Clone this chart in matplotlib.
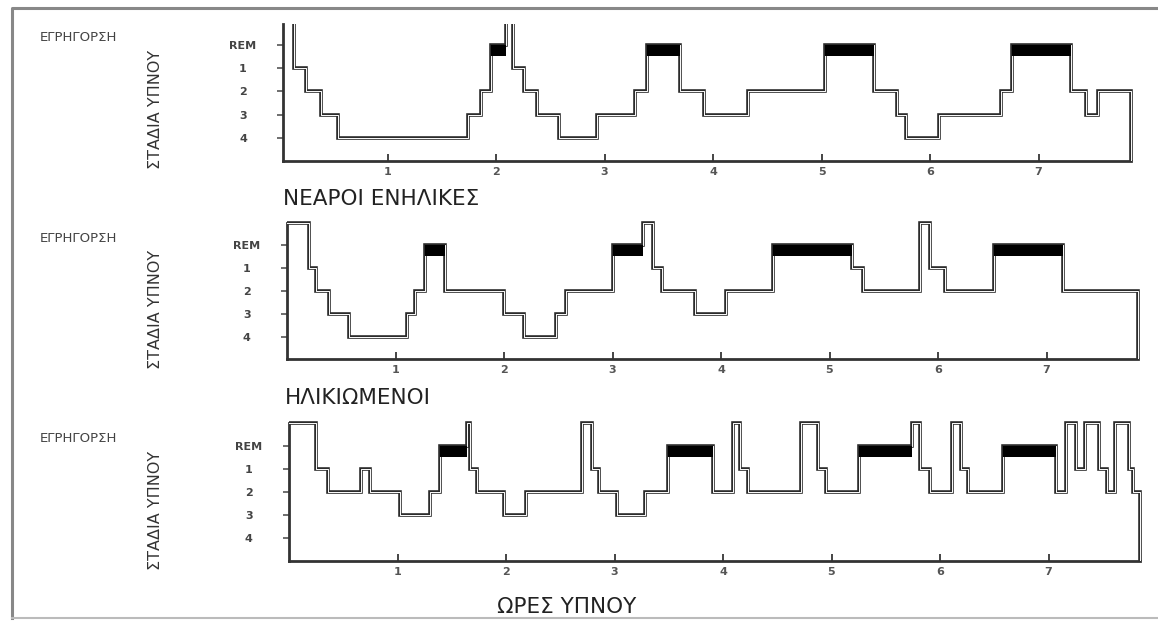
import matplotlib.pyplot as plt
from matplotlib.lines import Line2D

plt.rcParams["font.family"] = ["DejaVu Sans"]

# sleep stages: W = wake (ΕΓΡΗΓΟΡΣΗ), R = REM, 1-4 = stages
LEVEL = {"W": 0, "R": 1, "1": 2, "2": 3, "3": 4, "4": 5}
stage_labels = ["REM", "1", "2", "3", "4"]
hour_ticks = [1, 2, 3, 4, 5, 6, 7]

# young adults: segment boundaries (hours) and stage of each segment
young_t = [0.04, 0.14, 0.25, 0.39, 0.54, 1.74, 1.86, 1.95, 2.09, 2.16, 2.26, 2.38, 2.58, 2.93,
           3.28, 3.39, 3.70, 3.92, 4.32, 5.03, 5.48, 5.70, 5.78, 6.08, 6.65, 6.76, 7.30, 7.44,
           7.55, 7.85]
young_s = ["W", "1", "2", "3", "4", "3", "2", "R", "W", "1", "2", "3", "4", "3", "2", "R", "2",
           "3", "2", "R", "2", "3", "4", "3", "2", "R", "2", "3", "2"]

# elderly
old_t = [0.0, 0.20, 0.27, 0.39, 0.57, 1.11, 1.18, 1.27, 1.46, 2.00, 2.18, 2.48, 2.57, 3.00,
         3.28, 3.37, 3.46, 3.76, 4.05, 4.48, 5.21, 5.31, 5.83, 5.93, 6.06, 6.52, 7.15, 7.84]
old_s = ["W", "1", "2", "3", "4", "3", "2", "R", "2", "3", "4", "3", "2", "R", "W", "1", "2",
         "3", "2", "R", "1", "2", "W", "1", "2", "R", "2"]

# third panel (no title)
third_t = [0.0, 0.25, 0.36, 0.66, 0.75, 1.02, 1.30, 1.39, 1.64, 1.67, 1.73, 1.98, 2.18, 2.70,
           2.79, 2.86, 3.02, 3.28, 3.49, 3.91, 4.09, 4.16, 4.23, 4.72, 4.88, 4.95, 5.25, 5.74,
           5.82, 5.91, 6.11, 6.19, 6.26, 6.58, 7.07, 7.16, 7.25, 7.34, 7.47, 7.54, 7.61, 7.74,
           7.78, 7.84]
third_s = ["W", "1", "2", "1", "2", "3", "2", "R", "W", "1", "2", "3", "2", "W", "1", "2", "3",
           "2", "R", "2", "W", "1", "2", "W", "1", "2", "R", "W", "1", "2", "W", "1", "2", "R",
           "2", "W", "1", "W", "1", "2", "W", "1", "2"]

W, H = 1158, 621
PX_H = 108.5  # pixels per hour
fig = plt.figure(figsize=(W / 100, H / 100), dpi=100)
fig.patch.set_facecolor("white")


def ftext(x, y, s, **kw):
    # place text in pixel coords (y from top)
    return fig.text(x / W, 1 - y / H, s, **kw)


def panel(t, s, top, bottom, hour0, y_top):
    step = (bottom - top) / 6
    x0, x1 = t[0], t[-1] + 0.04
    left = hour0 + x0 * PX_H
    right = hour0 + x1 * PX_H
    ax_top = top + y_top * step
    ax = fig.add_axes([left / W, 1 - bottom / H, (right - left) / W, (bottom - ax_top) / H])
    ax.set_xlim(x0, x1)
    ax.set_ylim(6, y_top)
    ax.patch.set_alpha(0)

    y = [LEVEL[k] for k in s] + [6]
    ax.step(t, y, where="post", color="#2b2b2b", lw=2.6, solid_joinstyle="miter", zorder=2)
    ax.step(t, y, where="post", color="white", lw=0.7, zorder=3)
    for i, k in enumerate(s):
        if k == "R":
            ax.bar(t[i], 0.47, width=t[i + 1] - t[i], bottom=1, align="edge",
                   color="black", zorder=4)

    for side in ["top", "right"]:
        ax.spines[side].set_visible(False)
    ax.spines["left"].set_bounds(max(y_top, 0), 6)
    ax.spines["bottom"].set_bounds(x0, t[-1])
    for side in ["left", "bottom"]:
        ax.spines[side].set_linewidth(2)
        ax.spines[side].set_color("#333333")

    ax.set_yticks([1, 2, 3, 4, 5], stage_labels)
    ax.set_xticks(hour_ticks, [str(h) for h in hour_ticks])
    ax.tick_params(axis="y", direction="out", length=4, width=1.2, color="#555555",
                   labelsize=8, labelcolor="#444444", pad=25)
    for lbl in ax.get_yticklabels():
        lbl.set_ha("center")
        lbl.set_fontweight("bold")
    ax.tick_params(axis="x", direction="in", length=5, width=1.4, color="#444444",
                   labelsize=8, labelcolor="#555555", pad=4)
    for lbl in ax.get_xticklabels():
        lbl.set_fontweight("bold")

    ftext(40, top + 0.7 * step, "ΕΓΡΗΓΟΡΣΗ", fontsize=9.5, color="#444444",
          va="center", ha="left")
    ftext(155, top + 3.8 * step, "ΣΤΑΔΙΑ ΥΠΝΟΥ", fontsize=11.5, color="#333333",
          rotation=90, va="center", ha="center")
    return ax


panel(young_t, young_s, 21.7, 161, 279, 0.1)
panel(old_t, old_s, 222.7, 359.3, 287, -0.1)
panel(third_t, third_s, 422.7, 561, 289, -0.1)

ftext(283, 199, "ΝΕΑΡΟΙ ΕΝΗΛΙΚΕΣ", fontsize=15.5, color="#222222", va="center", ha="left")
ftext(285, 398, "ΗΛΙΚΙΩΜΕΝΟΙ", fontsize=15.5, color="#222222", va="center", ha="left")
ftext(567, 607, "ΩΡΕΣ ΥΠΝΟΥ", fontsize=15.5, color="#222222", va="center", ha="center")

# scanned page frame
fig.add_artist(Line2D([12 / W, 12 / W, 1], [1 - 618 / H, 1 - 8 / H, 1 - 8 / H],
                      transform=fig.transFigure, color="#888888", lw=2.2))
fig.add_artist(Line2D([12 / W, 1], [1 - 618 / H, 1 - 618 / H],
                      transform=fig.transFigure, color="#bbbbbb", lw=1.5))

fig.savefig("out.png", dpi=100, facecolor="white")
